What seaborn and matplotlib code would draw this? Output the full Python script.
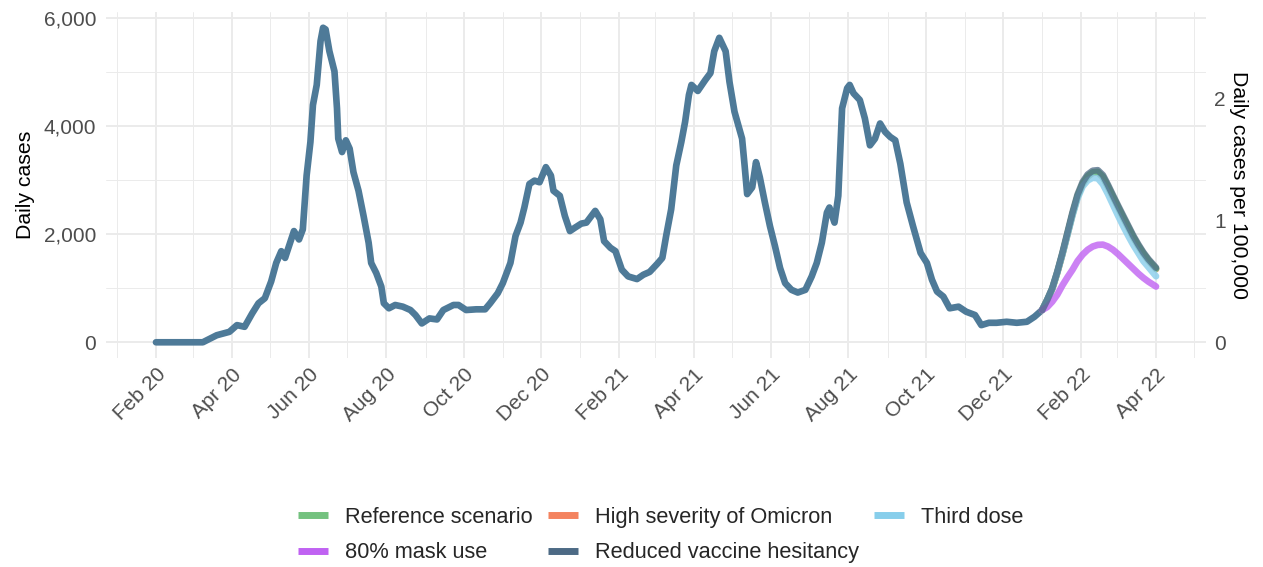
import pandas as pd
import seaborn as sns
import matplotlib.pyplot as plt
import matplotlib.dates as mdates
from matplotlib.lines import Line2D

hist_dates = [
    "2020-02-01", "2020-03-09", "2020-03-20", "2020-03-30", "2020-04-05", "2020-04-11",
    "2020-04-17", "2020-04-22", "2020-04-27", "2020-05-02", "2020-05-06", "2020-05-10",
    "2020-05-13", "2020-05-17", "2020-05-20", "2020-05-24", "2020-05-27", "2020-05-30",
    "2020-06-02", "2020-06-04", "2020-06-07", "2020-06-10", "2020-06-12", "2020-06-14",
    "2020-06-17", "2020-06-21", "2020-06-23", "2020-06-24", "2020-06-27", "2020-06-30",
    "2020-07-03", "2020-07-06", "2020-07-10", "2020-07-14", "2020-07-18", "2020-07-20",
    "2020-07-24", "2020-07-28", "2020-07-30", "2020-08-03", "2020-08-08", "2020-08-14",
    "2020-08-20", "2020-08-24", "2020-08-29", "2020-09-04", "2020-09-10", "2020-09-15",
    "2020-09-23", "2020-09-27", "2020-10-03", "2020-10-11", "2020-10-18", "2020-10-22",
    "2020-10-28", "2020-11-01", "2020-11-07", "2020-11-11", "2020-11-15", "2020-11-18",
    "2020-11-22", "2020-11-26", "2020-11-30", "2020-12-05", "2020-12-09", "2020-12-11",
    "2020-12-16", "2020-12-20", "2020-12-24", "2020-12-28", "2021-01-02", "2021-01-06",
    "2021-01-13", "2021-01-17", "2021-01-20", "2021-01-25", "2021-01-29", "2021-02-03",
    "2021-02-08", "2021-02-15", "2021-02-20", "2021-02-25", "2021-03-03", "2021-03-07",
    "2021-03-10", "2021-03-14", "2021-03-18", "2021-03-22", "2021-03-25", "2021-03-28",
    "2021-03-30", "2021-04-04", "2021-04-10", "2021-04-14", "2021-04-17", "2021-04-21",
    "2021-04-26", "2021-04-29", "2021-05-03", "2021-05-09", "2021-05-11", "2021-05-13",
    "2021-05-17", "2021-05-20", "2021-05-23", "2021-05-27", "2021-05-31", "2021-06-04",
    "2021-06-08", "2021-06-12", "2021-06-17", "2021-06-22", "2021-06-28", "2021-07-03",
    "2021-07-07", "2021-07-11", "2021-07-15", "2021-07-17", "2021-07-21", "2021-07-24",
    "2021-07-27", "2021-07-31", "2021-08-02", "2021-08-05", "2021-08-10", "2021-08-14",
    "2021-08-18", "2021-08-22", "2021-08-26", "2021-08-30", "2021-09-03", "2021-09-07",
    "2021-09-11", "2021-09-16", "2021-09-21", "2021-09-27", "2021-10-02", "2021-10-06",
    "2021-10-10", "2021-10-15", "2021-10-20", "2021-10-27", "2021-11-02", "2021-11-09",
    "2021-11-14", "2021-11-20", "2021-11-26", "2021-12-04", "2021-12-12", "2021-12-20",
    "2021-12-26", "2022-01-01",
]
hist_cases = [
    0, 0, 130, 193, 317, 286,
    534, 721, 814, 1124, 1466, 1683,
    1559, 1839, 2055, 1900, 2086, 3080,
    3701, 4384, 4756, 5565, 5812, 5781,
    5378, 5006, 4322, 3763, 3515, 3732,
    3577, 3143, 2800, 2334, 1839, 1466,
    1280, 1030, 721, 628, 689, 658,
    596, 503, 348, 441, 422, 596,
    689, 689, 596, 609, 609, 721,
    907, 1093, 1466, 1962, 2211, 2490,
    2925, 2987, 2957, 3236, 3080, 2800,
    2707, 2334, 2055, 2118, 2193, 2211,
    2428, 2273, 1869, 1746, 1683, 1341,
    1217, 1168, 1248, 1300, 1450, 1559,
    1962, 2459, 3266, 3701, 4074, 4570,
    4756, 4644, 4849, 4974, 5378, 5626,
    5378, 4818, 4260, 3763, 3266, 2738,
    2863, 3329, 3050, 2584, 2148, 1775,
    1373, 1093, 969, 919, 969, 1217,
    1466, 1839, 2397, 2490, 2211, 2707,
    4322, 4695, 4756, 4602, 4477, 4136,
    3639, 3763, 4043, 3888, 3795, 3732,
    3300, 2584, 2148, 1652, 1466, 1155,
    938, 844, 628, 658, 565, 503,
    317, 360, 360, 379, 360, 379,
    472, 596,
]

# scenario projections
proj_dates = [
    "2022-01-01", "2022-01-05", "2022-01-09", "2022-01-13", "2022-01-17", "2022-01-21",
    "2022-01-25", "2022-01-29", "2022-02-02", "2022-02-06", "2022-02-10", "2022-02-14",
    "2022-02-18", "2022-02-22", "2022-02-26", "2022-03-02", "2022-03-06", "2022-03-10",
    "2022-03-14", "2022-03-18", "2022-03-22", "2022-03-26", "2022-04-01",
]
ref_cases = [596, 780, 990, 1290, 1630, 2000, 2370, 2700, 2930, 3070, 3140, 3150,
             3060, 2880, 2690, 2500, 2310, 2130, 1945, 1785, 1640, 1515, 1360]
severe_cases = [596, 778, 985, 1285, 1622, 1990, 2360, 2690, 2920, 3060, 3130, 3140,
                3050, 2870, 2680, 2490, 2300, 2120, 1935, 1775, 1632, 1508, 1352]
third_cases = [596, 780, 990, 1290, 1620, 1980, 2340, 2660, 2880, 2990, 3040, 3030,
               2920, 2740, 2540, 2340, 2150, 1970, 1800, 1650, 1500, 1390, 1220]
mask_cases = [596, 650, 750, 880, 1050, 1200, 1340, 1500, 1620, 1710, 1770, 1800,
              1805, 1770, 1710, 1630, 1540, 1450, 1360, 1270, 1190, 1120, 1030]
hesitancy_cases = [596, 784, 1000, 1305, 1650, 2025, 2400, 2730, 2960, 3100, 3170, 3180,
                   3090, 2910, 2715, 2525, 2340, 2155, 1970, 1808, 1660, 1535, 1378]

scenarios = ["Reference scenario", "High severity of Omicron", "Third dose",
             "80% mask use", "Reduced vaccine hesitancy"]
colors = ["#74C27F", "#F4835F", "#87CEEB", "#C062F2", "#4D6A85"]
cases_per_100k = 2255  # daily cases equal to 1 per 100,000

hist = pd.DataFrame({"date": pd.to_datetime(hist_dates), "cases": hist_cases})
proj = pd.concat([
    pd.DataFrame({"date": pd.to_datetime(proj_dates), "cases": v, "scenario": s})
    for s, v in zip(scenarios, [ref_cases, severe_cases, third_cases, mask_cases, hesitancy_cases])
])
palette = dict(zip(scenarios, colors))

sns.set_theme(style="whitegrid")
plt.rcParams['font.family'] = ['Liberation Sans', 'DejaVu Sans']

fig = plt.figure(figsize=(12.63, 5.67), dpi=100)
ax = fig.add_axes([0.0839, 0.3686, 0.8710, 0.6102])

sns.lineplot(data=hist, x="date", y="cases", color="#4E7A98", lw=4.8, ax=ax,
             solid_capstyle="round", solid_joinstyle="round")

# scenarios drawn one by one so the overlap looks like the original
line_kw = dict(x="date", y="cases", lw=4.8, legend=False, ax=ax,
               solid_capstyle="round", solid_joinstyle="round")
for name, a in [("High severity of Omicron", 0.9), ("Reference scenario", 1.0),
                ("Third dose", 0.8), ("80% mask use", 0.8),
                ("Reduced vaccine hesitancy", 0.75)]:
    sns.lineplot(data=proj[proj["scenario"] == name], color=palette[name],
                 alpha=a, **line_kw)

# axis ranges with ggplot-style 5% expansion
start, end = hist["date"].min(), proj["date"].max()
pad = (end - start) * 0.05
ax.set_xlim(start - pad, end + pad)
ymax = max(hist_cases)
ax.set_ylim(-0.05 * ymax, 1.05 * ymax)

ax.xaxis.set_major_locator(mdates.MonthLocator(bymonth=[2, 4, 6, 8, 10, 12]))
ax.xaxis.set_minor_locator(mdates.MonthLocator(bymonth=[1, 3, 5, 7, 9, 11]))
ax.xaxis.set_major_formatter(mdates.DateFormatter("%b %y"))
ax.set_yticks([0, 2000, 4000, 6000])
ax.set_yticks([1000, 3000, 5000], minor=True)
ax.yaxis.set_major_formatter(plt.FuncFormatter(lambda v, p: f"{int(v):,}"))

ax.grid(which="major", color="#EBEBEB", lw=1.4)
ax.grid(which="minor", color="#EBEBEB", lw=0.7)
ax.set_facecolor("white")
for s in ax.spines.values():
    s.set_visible(False)
ax.tick_params(which="both", length=0)
ax.tick_params(axis="y", labelsize=15, labelcolor="#4D4D4D", pad=7)
ax.tick_params(axis="x", labelsize=15, labelcolor="#4D4D4D", pad=5)
for lab in ax.get_xticklabels():
    lab.set_rotation(45)
    lab.set_ha("right")
    lab.set_va("top")
    lab.set_rotation_mode("anchor")

ax.set_xlabel("")
ax.set_ylabel("Daily cases", fontsize=15.3, color="black", labelpad=6)

sec = ax.secondary_yaxis("right", functions=(lambda v: v / cases_per_100k,
                                              lambda v: v * cases_per_100k))
sec.set_yticks([0, 1, 2])
sec.tick_params(length=0, labelsize=15, labelcolor="#4D4D4D", pad=6)
for s in sec.spines.values():
    s.set_visible(False)
sec.set_ylabel("Daily cases per 100,000", fontsize=15.3, rotation=270,
               labelpad=16, color="black")

handles = [Line2D([], [], color=c, lw=5, solid_capstyle="butt") for c in colors]
order = [0, 3, 1, 4, 2]
fig.legend([handles[i] for i in order], [scenarios[i] for i in order],
           loc="center", bbox_to_anchor=(0.523, 0.056), ncol=3, frameon=False,
           fontsize=15.7, handlelength=1.4, handletextpad=0.75, columnspacing=0.7,
           labelspacing=0.66)

fig.savefig("out.png", dpi=100)
